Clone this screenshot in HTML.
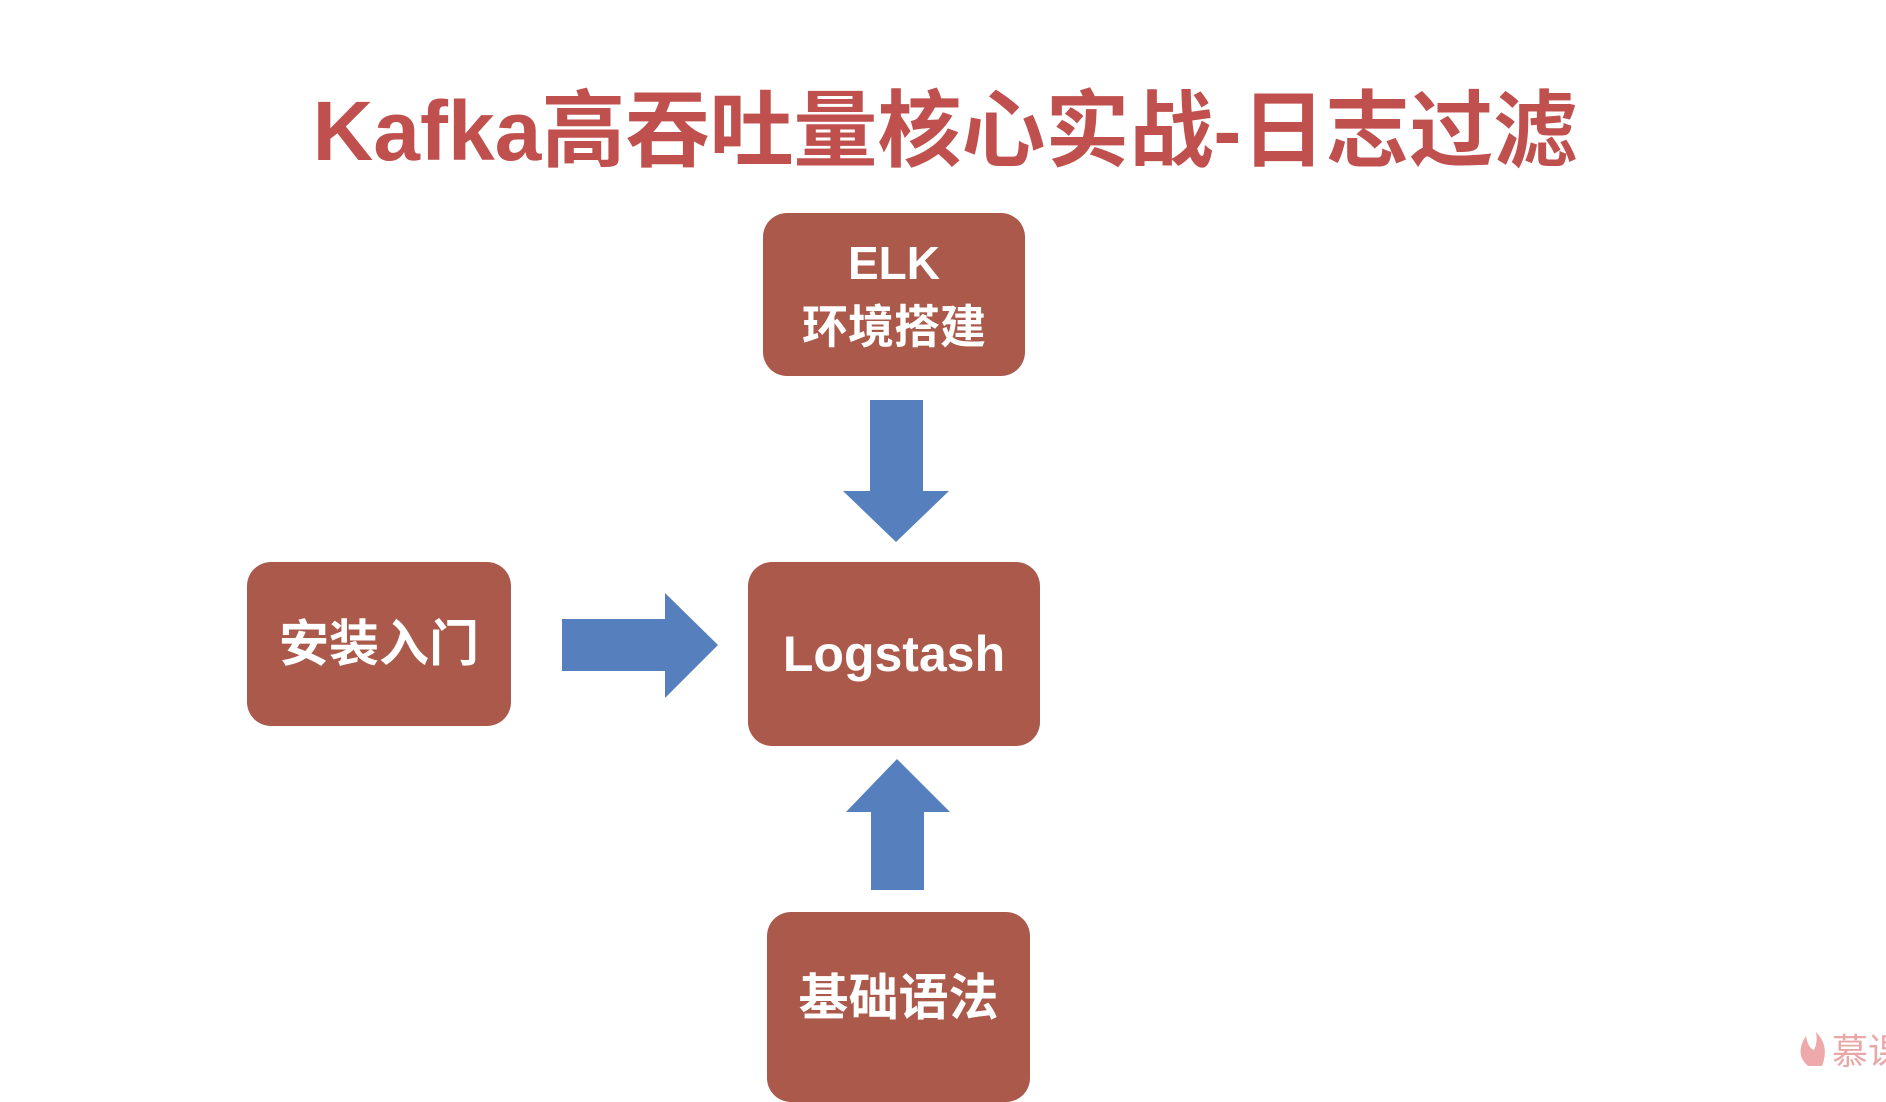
<!DOCTYPE html>
<html><head><meta charset="utf-8"><style>
body{margin:0;width:1886px;height:1070px;background:#fff;position:relative;overflow:hidden;font-family:"Liberation Sans","Noto Sans CJK SC",sans-serif}
.t{position:absolute;left:300px;width:1290px;top:76px;text-align:center;font-size:84px;font-weight:bold;color:#c0504d;white-space:nowrap;line-height:110px}
.b{position:absolute;background:#ab594b;border-radius:24px;color:#fff;font-weight:bold;font-size:50px;display:flex;align-items:center;justify-content:center;text-align:center;line-height:64px}
</style></head><body>
<div class="t">Kafka高吞吐量核心实战-日志过滤</div>
<div class="b" style="left:763px;top:213px;width:262px;height:163px;font-size:46px">ELK<br>环境搭建</div>
<div class="b" style="left:748px;top:562px;width:292px;height:184px">Logstash</div>
<div class="b" style="left:247px;top:562px;width:264px;height:164px">安装入门</div>
<div class="b" style="left:767px;top:912px;width:263px;height:190px;align-items:flex-start"><span style="margin-top:54px">基础语法</span></div>
<svg width="1886" height="1070" style="position:absolute;left:0;top:0">
<g fill="#5580bd">
<polygon points="870,400 923,400 923,491 949,491 896,542 843,491 870,491"/>
<polygon points="562,619 665,619 665,593 718,645 665,698 665,671 562,671"/>
<polygon points="897,759 950,812 924,812 924,890 871,890 871,812 846,812"/>
</g>
<text x="1832" y="1064" font-size="36" fill="#e8a8a8" font-family="Noto Sans CJK SC,sans-serif">慕课</text>
<path d="M1808 1066 q-14 -12 -2 -30 q2 12 8 14 q4 -8 2 -18 q14 14 6 34z" fill="#eeaaaa"/>
</svg>
</body></html>
